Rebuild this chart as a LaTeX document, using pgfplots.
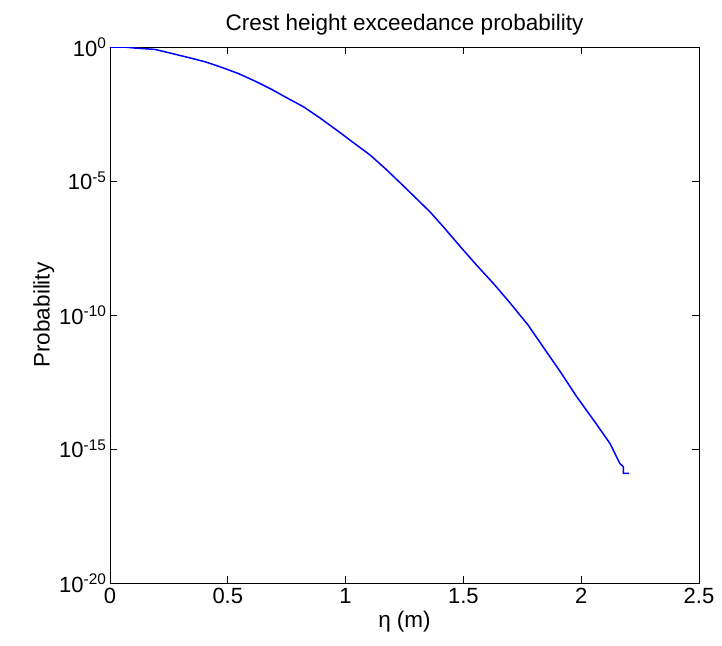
\documentclass[border=0pt]{standalone}
\usepackage{fontspec}
\setmainfont{Liberation Sans}
\usepackage{pgfplots}
\pgfplotsset{compat=1.18}
\begin{document}
\begin{tikzpicture}
\begin{axis}[
  scale only axis,
  width=589pt, height=536pt,
  xmin=0, xmax=2.5, ymin=1e-20, ymax=1,
  ymode=log,
  xtick={0,0.5,1,1.5,2,2.5},
  xticklabels={0,0.5,1,1.5,2,2.5},
  ytick={1e-20,1e-15,1e-10,1e-5,1},
  yticklabels={10\textsuperscript{-20},10\textsuperscript{-15},10\textsuperscript{-10},10\textsuperscript{-5},10\textsuperscript{0}},
  minor tick num=0,
  yminorticks=false,
  tick align=inside,
  major tick length=7pt,
  tick style={black, line width=0.8pt},
  axis line style={black, line width=0.8pt},
  tick label style={font=\fontsize{22}{24}\selectfont},
  xticklabel style={yshift=-2pt},
  title={Crest height exceedance probability},
  title style={font=\fontsize{22.5}{25}\selectfont, yshift=2pt},
  xlabel={η (m)},
  ylabel={Probability},
  label style={font=\fontsize{22.5}{25}\selectfont},
  ylabel style={yshift=-2pt},
]
\addplot[color={rgb,255:red,0;green,0;blue,255}, line width=1.5pt] coordinates {
(0,1) (0.06,1) (0.106,0.912) (0.191,0.813) (0.262,0.575) (0.332,0.407)
(0.403,0.282) (0.474,0.174) (0.545,0.102) (0.615,0.0537) (0.686,0.0263)
(0.743,0.0138) (0.821,5.89e-3) (0.89,2.29e-3) (0.962,7.94e-4) (1.03,2.82e-4)
(1.104,9.33e-5) (1.17,2.82e-5) (1.245,6.61e-6) (1.358,7.08e-7) (1.415,1.95e-7)
(1.485,3.72e-8) (1.556,7.24e-9) (1.628,1.48e-9) (1.698,2.82e-10) (1.775,4.17e-11)
(1.839,6.31e-12) (1.91,7.94e-13) (1.981,8.91e-14) (2.05,1.29e-14)
(2.122,1.62e-15) (2.164,2.88e-16) (2.179,2.19e-16) (2.179,1.23e-16)
(2.202,1.23e-16)
};
\coordinate (O) at (rel axis cs:0,0);
\end{axis}
\path (O) ++(-110pt,-62pt) rectangle ++(722pt,645pt);
\end{tikzpicture}
\end{document}
